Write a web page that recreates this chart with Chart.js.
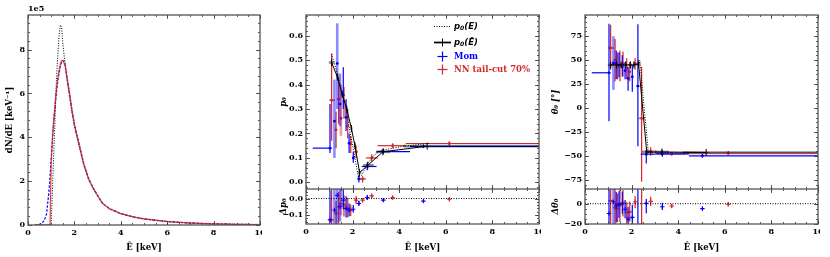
<!DOCTYPE html>
<html><head><meta charset="utf-8">
<script src="https://cdn.jsdelivr.net/npm/chart.js@4.4.1/dist/chart.umd.min.js"></script>
<style>
html,body{margin:0;padding:0;background:#fff;width:830px;height:257px;overflow:hidden;}
canvas{position:absolute;}
</style></head><body>
<canvas id="c1" width="262" height="257" style="left:0px;top:0px"></canvas>
<canvas id="c2" width="264" height="189" style="left:277px;top:0px"></canvas>
<canvas id="c3" width="264" height="68" style="left:277px;top:189px"></canvas>
<canvas id="c4" width="273" height="189" style="left:547px;top:0px"></canvas>
<canvas id="c5" width="273" height="68" style="left:547px;top:189px"></canvas>
<script>
// ---------------- data ----------------
// left panel: spectra (units of 1e5 per keV)
const specE    = [0.3,0.5,0.6,0.7,0.8,0.85,0.9,0.95,1.0,1.05,1.1,1.15,1.2,1.25,1.3,1.35,1.4,1.45,1.5,1.55,1.6,1.7,1.8,1.9,2.0,2.1,2.2,2.4,2.6,2.8,3.0,3.2,3.5,4.0,4.5,5.0,6.0,7.0,8.0,9.0,10.0];
const momSpec  = [0,0.03,0.08,0.2,0.5,1.0,1.5,2.2,3.0,3.8,4.6,5.2,5.8,6.3,6.7,7.0,7.3,7.45,7.5,7.45,7.3,6.6,5.9,5.2,4.6,4.15,3.7,2.8,2.15,1.7,1.35,1.0,0.75,0.52,0.38,0.28,0.16,0.09,0.05,0.03,0.02];
const nnSpec   = [0,0,0,0,0,0,0,0,2.9,3.9,4.7,5.3,5.9,6.4,6.8,7.1,7.35,7.5,7.5,7.4,7.25,6.6,5.95,5.2,4.6,4.1,3.7,2.8,2.15,1.7,1.35,1.0,0.75,0.52,0.38,0.28,0.16,0.09,0.05,0.03,0.02];
const trueSpec = [0,0,0,0,0,0,0,0,0,1.5,3.0,4.3,6.0,7.1,8.0,8.8,9.13,9.0,8.3,7.8,7.35,6.5,5.8,5.1,4.5,4.05,3.6,2.75,2.1,1.68,1.33,1.0,0.74,0.51,0.37,0.27,0.15,0.09,0.05,0.03,0.02];

// Mom reconstruction
const momE     = [1.03,1.22,1.34,1.46,1.60,1.72,1.85,2.03,2.27,2.63,3.32,5.04];
const momELo   = [0.29,1.17,1.30,1.42,1.56,1.68,1.81,1.98,2.20,2.39,3.03,4.46];
const momEHi   = [1.10,1.27,1.38,1.50,1.64,1.76,1.89,2.08,2.34,3.03,4.46,10.0];
const momP0    = [0.14,0.25,0.486,0.32,0.357,0.266,0.16,0.10,0.014,0.065,0.126,0.147];
const momP0Lo  = [0.12,0.10,0.30,0.23,0.30,0.21,0.12,0.08,0.0,0.05,0.115,0.14];
const momP0Hi  = [0.32,0.42,0.65,0.445,0.47,0.34,0.20,0.125,0.03,0.08,0.137,0.155];
const momDp    = [-0.13,-0.07,0.02,-0.05,-0.01,-0.06,-0.07,-0.065,-0.03,0.006,-0.01,-0.016];
const momTh    = [36.8,47,46.5,44.8,43,38.9,30.9,32.6,22.9,-48.3,-47.9,-50];
const momThLo  = [-14,19,30,32,33,30,18,17,-40,-58,-51,-52];
const momThHi  = [88,75,60,58,55,48,43,45,87.5,-44,-44,-48];
const momDth   = [-9.7,2,-2,-1,0,-5.5,-15,-13.5,-25,0.3,-3,-4.8];

// NN tail-cut 70%
const nnE      = [1.10,1.29,1.40,1.50,1.63,1.79,1.92,2.15,2.43,2.82,3.72,6.15];
const nnELo    = [1.00,1.24,1.36,1.46,1.59,1.75,1.88,2.08,2.30,2.57,3.07,4.28];
const nnEHi    = [1.23,1.34,1.44,1.54,1.67,1.83,1.96,2.22,2.57,3.07,4.28,10.0];
const nnP0     = [0.336,0.215,0.34,0.262,0.33,0.23,0.157,0.125,0.014,0.10,0.15,0.159];
const nnP0Lo   = [0.17,0.14,0.24,0.19,0.26,0.18,0.12,0.10,0.0,0.085,0.14,0.15];
const nnP0Hi   = [0.527,0.29,0.43,0.40,0.39,0.30,0.19,0.15,0.025,0.115,0.16,0.168];
const nnDp     = [-0.13,-0.09,-0.05,-0.03,-0.04,-0.065,-0.07,-0.01,-0.01,0.016,0.006,-0.004];
const nnTh     = [62.8,50,43,45,46.5,41.3,37.8,46.5,-10.8,-45.5,-48,-47.2];
const nnThLo   = [40,28,30,28,33,30,28,40,-77,-50,-50,-49];
const nnThHi   = [87,72,58,60,59,52,48,52,43,-41,-46,-45];
const nnDth    = [3,-4,-5,-1,1,-8.7,-8,2,-20,2.3,-2.3,-0.6];

// truth at reconstructed energy p0(Ê)
const trueE     = [1.10,1.35,1.55,1.75,1.95,2.10,2.30,2.65,3.30,5.20];
const trueELo   = [0.98,1.30,1.50,1.70,1.90,2.05,2.22,2.45,3.00,4.20];
const trueEHi   = [1.22,1.40,1.60,1.80,2.00,2.15,2.38,2.90,3.60,10.0];
const trueP0    = [0.49,0.43,0.36,0.30,0.22,0.15,0.04,0.07,0.125,0.148];
const trueTheta = [45,45,45,45,45,45,46,-46,-46,-46.5];

// truth at true energy p0(E)
const genE      = [1.1,1.3,1.5,1.7,1.9,2.1,2.25,2.4,2.6,2.9,3.2,4.0,5.3];
const genP0     = [0.525,0.46,0.39,0.31,0.20,0.10,0.02,0.03,0.07,0.11,0.13,0.145,0.16];
const genThE    = [1.1,1.5,2.0,2.3,2.35,2.72,3.2,4.0,5.3];
const genTheta  = [45,45,45,45,50,-47,-46.5,-46.5,-46.5];

const zeroE = [0,10], zeroV = [0,0];

// ticks
const eTicks      = [0,2,4,6,8,10];
const specTicks   = [0,2,4,6,8];
const p0Ticks     = [0,0.1,0.2,0.3,0.4,0.5,0.6];
const dp0Ticks    = [-0.1,0.0];
const thetaTicks  = [-75,-50,-25,0,25,50,75];
const dthetaTicks = [-20,0];

// ---------------- helpers ----------------
const BLUE = '#0000ff', RED = '#d62728';
const SERIF = '"DejaVu Serif", "Liberation Serif", serif';
const SANS = '"DejaVu Sans", sans-serif';
const TF = {family: SERIF, weight: 'bold', size: 8};
const minus = s => s.replace('-', '\u2212');
const pts = (xs, ys) => xs.map((x, i) => ({x, y: ys[i]}));
const lightFlags = (lo, hi, range) => lo.map((l, i) => { const f = (hi[i]-l)/range; return f > 0.29 && f < 0.5; });
const shift = (d, c, b) => d.map((v, i) => v + (b[i] - c[i]));
const noPad = s => { s.paddingLeft = 0; s.paddingRight = 0; s.paddingTop = 0; s.paddingBottom = 0; };

const frameTicks = {
  id: 'frameTicks',
  afterDraw(chart, args, o) {
    const {ctx, chartArea: a, scales} = chart;
    const xs = scales.x, ys = scales.y;
    ctx.save();
    ctx.strokeStyle = '#333'; ctx.lineWidth = 0.8;
    const ln = (x1, y1, x2, y2) => { ctx.beginPath(); ctx.moveTo(x1, y1); ctx.lineTo(x2, y2); ctx.stroke(); };
    const minors = (s, step) => { const r = []; for (let i = Math.ceil(s.min/step - 1e-9); i <= Math.floor(s.max/step + 1e-9); i++) r.push(i*step); return r; };
    const doX = (vals, len) => vals.forEach(v => { const p = Math.round(xs.getPixelForValue(v)) + 0.5; if (p < a.left - 1 || p > a.right + 1) return; ln(p, a.bottom, p, a.bottom - len); ln(p, a.top, p, a.top + len); });
    const doY = (vals, len) => vals.forEach(v => { const p = Math.round(ys.getPixelForValue(v)) + 0.5; if (p < a.top - 1 || p > a.bottom + 1) return; ln(a.left, p, a.left + len, p); ln(a.right, p, a.right - len, p); });
    doX(minors(xs, o.xMinor), 2); doX(o.xMajor, 4);
    doY(minors(ys, o.yMinor), 2); doY(o.yMajor, 4);
    ctx.strokeStyle = '#555'; ctx.lineWidth = 1.3;
    ctx.strokeRect(a.left, a.top, a.right - a.left, a.bottom - a.top);
    if (o.offset) {
      ctx.fillStyle = '#000'; ctx.font = 'bold 8px ' + SERIF; ctx.textBaseline = 'bottom'; ctx.textAlign = 'left';
      ctx.fillText(o.offset, a.left, a.top - 2);
    }
    ctx.restore();
  }
};

const errBars = {
  id: 'errBars',
  afterDatasetDraw(chart, args) {
    const ds = chart.data.datasets[args.index];
    if (!ds.err) return;
    const e = ds.err;
    const {ctx, chartArea: a, scales: {x: xs, y: ys}} = chart;
    ctx.save();
    ctx.beginPath(); ctx.rect(a.left, a.top, a.right - a.left, a.bottom - a.top); ctx.clip();
    ds.data.forEach((pt, i) => {
      const px = xs.getPixelForValue(pt.x), py = ys.getPixelForValue(pt.y);
      if (e.xlo) {
        ctx.globalAlpha = e.xAlpha || 1; ctx.strokeStyle = e.xColor || ds.borderColor; ctx.lineWidth = e.xWidth || 1.2;
        ctx.beginPath(); ctx.moveTo(xs.getPixelForValue(e.xlo[i]), py); ctx.lineTo(xs.getPixelForValue(e.xhi[i]), py); ctx.stroke();
      }
      if (e.ylo) {
        const light = e.light && e.light[i];
        ctx.globalAlpha = light ? 0.45 : 1; ctx.strokeStyle = ds.borderColor; ctx.lineWidth = light ? 2.6 : 1.2;
        ctx.beginPath(); ctx.moveTo(px, ys.getPixelForValue(e.ylo[i])); ctx.lineTo(px, ys.getPixelForValue(e.yhi[i])); ctx.stroke();
      }
    });
    ctx.restore();
  }
};

function mathRun(ctx, x, y, parts, color) {
  ctx.fillStyle = color; ctx.textBaseline = 'middle'; ctx.textAlign = 'left';
  parts.forEach(p => { ctx.font = p.f; ctx.fillText(p.t, x, y + (p.dy || 0)); x += ctx.measureText(p.t).width; });
}

const legendP = {
  id: 'legendP',
  afterDraw(chart, args, o) {
    if (!o.on) return;
    const ctx = chart.ctx, L = chart.chartArea.left;
    const x0 = L + 128, x1 = L + 145, xc = (x0 + x1) / 2, tx = L + 148;
    const r = [26.5, 42.5, 56.5, 69.5];
    const ln = (a, b, c, d) => { ctx.beginPath(); ctx.moveTo(a, b); ctx.lineTo(c, d); ctx.stroke(); };
    ctx.save();
    ctx.strokeStyle = '#000'; ctx.lineWidth = 1; ctx.setLineDash([1, 1.5]); ln(x0, r[0], x1, r[0]); ctx.setLineDash([]);
    ctx.globalAlpha = 0.45; ctx.lineWidth = 2.6; ln(x0, r[1], x1, r[1]);
    ctx.globalAlpha = 1; ctx.lineWidth = 1; ln(x0, r[1], x1, r[1]); ln(xc, r[1] - 4, xc, r[1] + 4);
    [[BLUE, r[2]], [RED, r[3]]].forEach(([c, y]) => {
      ctx.strokeStyle = c; ctx.lineWidth = 1.2; ln(xc - 5, y, xc + 5, y); ln(xc, y - 5, xc, y + 5);
    });
    const it = 'italic bold 8.5px ' + SANS, sub = 'italic bold 6px ' + SANS;
    mathRun(ctx, tx, r[0], [{t: 'p', f: it}, {t: '0', f: sub, dy: 2}, {t: '(E)', f: it}], '#000');
    mathRun(ctx, tx, r[1], [{t: 'p', f: it}, {t: '0', f: sub, dy: 2}, {t: '(\u00CA)', f: it}], '#000');
    mathRun(ctx, tx, r[2], [{t: 'Mom', f: 'bold 8.5px ' + SERIF}], BLUE);
    mathRun(ctx, tx, r[3], [{t: 'NN tail-cut 70%', f: 'bold 8.5px ' + SERIF}], RED);
    ctx.restore();
  }
};

Chart.register(frameTicks, errBars, legendP);

function axisX(show, title, h) {
  return {
    type: 'linear', min: 0, max: 10, display: show,
    afterBuildTicks: s => { s.ticks = eTicks.map(v => ({value: v})); },
    afterFit: s => { s.height = h; noPad(s); },
    ticks: {font: TF, color: '#000', padding: 3, maxRotation: 0, autoSkip: false, callback: v => String(v)},
    grid: {display: false, drawTicks: false}, border: {display: false},
    title: {display: !!title, text: title, font: {family: SERIF, weight: 'bold', size: 8.5}, color: '#000', padding: {top: 2, bottom: 4}}
  };
}
function axisY(min, max, ticks, fmtf, title, w, tpad, italic) {
  return {
    type: 'linear', min, max,
    afterBuildTicks: s => { s.ticks = ticks.map(v => ({value: v})); },
    afterFit: s => { s.width = w; noPad(s); },
    ticks: {font: TF, color: '#000', padding: 3, autoSkip: false, callback: fmtf},
    grid: {display: false, drawTicks: false}, border: {display: false},
    title: {display: true, text: title, font: {family: SERIF, weight: 'bold', size: 8.5, style: italic ? 'italic' : 'normal'}, color: '#000', padding: {top: tpad, bottom: 0}}
  };
}
function make(id, datasets, scales, padding, ft, legendOn) {
  return new Chart(document.getElementById(id), {
    type: 'scatter',
    data: {datasets},
    options: {
      responsive: false, animation: false, devicePixelRatio: 1, events: [],
      layout: {padding, autoPadding: false},
      plugins: {legend: {display: false}, tooltip: {enabled: false}, frameTicks: ft, legendP: {on: !!legendOn}},
      scales
    }
  });
}
const lineDs = (xs, ys, color, width, dash, extra) => Object.assign({data: pts(xs, ys), showLine: true, borderColor: color, backgroundColor: color, borderWidth: width, borderDash: dash || [], pointRadius: 0, tension: 0}, extra || {});
const ptDs = (xs, ys, color, err) => ({data: pts(xs, ys), showLine: false, borderColor: color, backgroundColor: color, pointRadius: 1.4, pointBorderWidth: 0, err});
const resDs = (xs, ys, color, err) => ({data: pts(xs, ys), showLine: false, borderColor: color, backgroundColor: color, pointStyle: 'cross', pointRadius: 2.2, pointBorderWidth: 1.1, err});

// ---------------- left panel ----------------
make('c1', [
  lineDs(specE, nnSpec, 'rgba(214,39,40,0.12)', 2.6),
  lineDs(specE, nnSpec, RED, 0.9),
  lineDs(specE, trueSpec, '#000', 1, [1, 1.5]),
  lineDs(specE, momSpec, BLUE, 1.2, [2.5, 1.5])
], {
  x: axisX(true, '\u00CA [keV]', 32),
  y: axisY(0, 9.58, specTicks, v => String(v), 'dN/dE [keV\u207B\u00B9]', 28, 5, false)
}, {top: 15, right: 2, left: 0, bottom: 0}, {xMajor: eTicks, xMinor: 0.5, yMajor: specTicks, yMinor: 0.4, offset: '1e5'});

// ---------------- middle panel ----------------
const P0R = 0.684 + 0.027;
const lightMomP = lightFlags(momP0Lo, momP0Hi, P0R);
const lightNnP = lightFlags(nnP0Lo, nnP0Hi, P0R);
const trueStyle = {pointStyle: 'line', rotation: 90, pointRadius: 3.5, pointBorderWidth: 1, pointBorderColor: '#000'};

make('c2', [
  lineDs(genE, genP0, '#000', 1, [1, 1.5]),
  lineDs(trueE, trueP0, '#000', 1, [], Object.assign({err: {xlo: trueELo, xhi: trueEHi, xColor: '#000', xAlpha: 0.45, xWidth: 2.6}}, trueStyle)),
  ptDs(momE, momP0, BLUE, {xlo: momELo, xhi: momEHi, ylo: momP0Lo, yhi: momP0Hi, light: lightMomP}),
  ptDs(nnE, nnP0, RED, {xlo: nnELo, xhi: nnEHi, ylo: nnP0Lo, yhi: nnP0Hi, light: lightNnP})
], {
  x: axisX(false, '', 0),
  y: axisY(-0.027, 0.684, p0Ticks, v => minus(v.toFixed(1)), 'p\u2080', 29, 2, true)
}, {top: 15, right: 2, left: 0, bottom: 0}, {xMajor: eTicks, xMinor: 0.5, yMajor: p0Ticks, yMinor: 0.02}, true);

make('c3', [
  lineDs(zeroE, zeroV, '#000', 1, [1, 1.5]),
  resDs(momE, momDp, BLUE, {ylo: shift(momDp, momP0, momP0Lo), yhi: shift(momDp, momP0, momP0Hi), light: lightMomP}),
  resDs(nnE, nnDp, RED, {ylo: shift(nnDp, nnP0, nnP0Lo), yhi: shift(nnDp, nnP0, nnP0Hi), light: lightNnP})
], {
  x: axisX(true, '\u00CA [keV]', 33),
  y: axisY(-0.155, 0.058, dp0Ticks, v => minus(v.toFixed(1)), '\u0394p\u2080', 29, 2, true)
}, {top: 0, right: 2, left: 0, bottom: 0}, {xMajor: eTicks, xMinor: 0.5, yMajor: dp0Ticks, yMinor: 0.02});

// ---------------- right panel ----------------
const THR = 97.2 + 84.7;
const lightMomT = lightFlags(momThLo, momThHi, THR);
const lightNnT = lightFlags(nnThLo, nnThHi, THR);

make('c4', [
  lineDs(genThE, genTheta, '#000', 1, [1, 1.5]),
  lineDs(trueE, trueTheta, '#000', 1, [], Object.assign({err: {xlo: trueELo, xhi: trueEHi, xColor: '#000', xAlpha: 0.45, xWidth: 2.6}}, trueStyle)),
  ptDs(momE, momTh, BLUE, {xlo: momELo, xhi: momEHi, ylo: momThLo, yhi: momThHi, light: lightMomT}),
  ptDs(nnE, nnTh, RED, {xlo: nnELo, xhi: nnEHi, ylo: nnThLo, yhi: nnThHi, light: lightNnT, xAlpha: 0.6, xWidth: 2.2})
], {
  x: axisX(false, '', 0),
  y: axisY(-84.7, 97.2, thetaTicks, v => minus(String(v)), '\u03B8\u2080 [\u00B0]', 38, 4, true)
}, {top: 15, right: 2, left: 0, bottom: 0}, {xMajor: eTicks, xMinor: 0.5, yMajor: thetaTicks, yMinor: 5});

make('c5', [
  lineDs(zeroE, zeroV, '#000', 1, [1, 1.5]),
  resDs(momE, momDth, BLUE, {ylo: shift(momDth, momTh, momThLo), yhi: shift(momDth, momTh, momThHi), light: lightMomT}),
  resDs(nnE, nnDth, RED, {ylo: shift(nnDth, nnTh, nnThLo), yhi: shift(nnDth, nnTh, nnThHi), light: lightNnT})
], {
  x: axisX(true, '\u00CA [keV]', 33),
  y: axisY(-20, 14.5, dthetaTicks, v => minus(String(v)), '\u0394\u03B8\u2080', 38, 4, true)
}, {top: 0, right: 2, left: 0, bottom: 0}, {xMajor: eTicks, xMinor: 0.5, yMajor: dthetaTicks, yMinor: 5});
</script>
</body></html>
